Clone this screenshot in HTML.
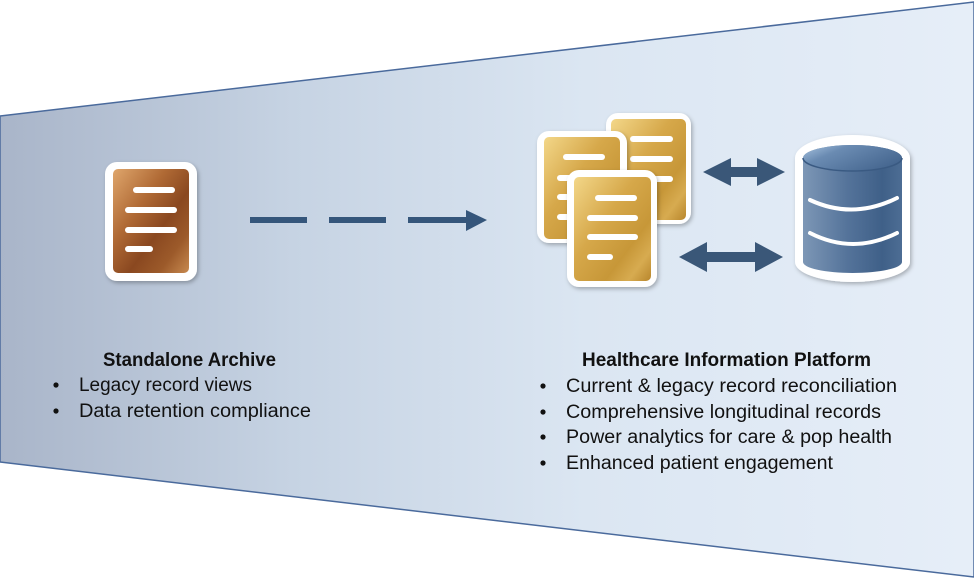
<!DOCTYPE html>
<html><head><meta charset="utf-8"><style>
html,body{margin:0;padding:0;background:#fff;}
svg{display:block;}
text{font-family:"Liberation Sans",Arial,sans-serif;fill:#111;}
</style></head><body>
<svg width="974" height="579" viewBox="0 0 974 579" xmlns="http://www.w3.org/2000/svg">
<defs>
<linearGradient id="bg" x1="0" y1="0" x2="1" y2="0">
<stop offset="0" stop-color="#a9b5c9"/>
<stop offset="0.3" stop-color="#c6d3e3"/>
<stop offset="0.6" stop-color="#dbe6f2"/>
<stop offset="1" stop-color="#e6eef8"/>
</linearGradient>
<linearGradient id="brown" x1="0" y1="0" x2="1" y2="1">
<stop offset="0" stop-color="#dfa66c"/>
<stop offset="0.35" stop-color="#b06a35"/>
<stop offset="0.6" stop-color="#8a4820"/>
<stop offset="0.8" stop-color="#9c5a2a"/>
<stop offset="1" stop-color="#c88a50"/>
</linearGradient>
<linearGradient id="gold" x1="0" y1="0" x2="1" y2="1">
<stop offset="0" stop-color="#f3d789"/>
<stop offset="0.4" stop-color="#d6a84a"/>
<stop offset="0.7" stop-color="#c79738"/>
<stop offset="0.85" stop-color="#d7ab50"/>
<stop offset="1" stop-color="#b8862c"/>
</linearGradient>
<linearGradient id="cyl" x1="0" y1="0" x2="1" y2="0">
<stop offset="0" stop-color="#7d97b6"/>
<stop offset="0.45" stop-color="#54739a"/>
<stop offset="0.8" stop-color="#3f6088"/>
<stop offset="1" stop-color="#4d6d94"/>
</linearGradient>
<linearGradient id="cyltop" x1="0" y1="0" x2="1" y2="0.6">
<stop offset="0" stop-color="#a9c4e0"/>
<stop offset="0.35" stop-color="#6a8bb2"/>
<stop offset="1" stop-color="#466790"/>
</linearGradient>
<filter id="sh" x="-20%" y="-20%" width="140%" height="140%">
<feDropShadow dx="1.5" dy="2" stdDeviation="2" flood-color="#000" flood-opacity="0.28"/>
</filter>
</defs>

<polygon points="0,116 974,2 974,577 0,462" fill="url(#bg)" stroke="#4a6a9c" stroke-width="1.5"/>

<!-- left doc -->
<g filter="url(#sh)">
<rect x="105" y="162" width="92" height="119" rx="12" fill="#fff"/>
</g>
<rect x="113" y="169" width="76" height="104" rx="5" fill="url(#brown)"/>
<g stroke="#fff" stroke-width="6" stroke-linecap="round">
<line x1="136" y1="190" x2="172" y2="190"/>
<line x1="128" y1="210" x2="174" y2="210"/>
<line x1="128" y1="230" x2="174" y2="230"/>
<line x1="128" y1="249" x2="150" y2="249"/>
</g>

<!-- dashed arrow -->
<g fill="#35567b">
<rect x="250" y="217" width="57" height="6"/>
<rect x="329" y="217" width="57" height="6"/>
<rect x="408" y="217" width="58" height="6"/>
<polygon points="466,210 487,220 466,231"/>
</g>

<!-- back gold doc -->
<g filter="url(#sh)"><rect x="606" y="113" width="85" height="111" rx="12" fill="#fff"/></g>
<rect x="611" y="119" width="75" height="101" rx="5" fill="url(#gold)"/>
<g stroke="#fff" stroke-width="6" stroke-linecap="round">
<line x1="633" y1="139" x2="670" y2="139"/>
<line x1="633" y1="159" x2="670" y2="159"/>
<line x1="633" y1="179" x2="670" y2="179"/>
</g>
<!-- left gold doc -->
<g filter="url(#sh)"><rect x="537" y="131" width="90" height="112" rx="12" fill="#fff"/></g>
<rect x="544" y="137" width="76" height="102" rx="5" fill="url(#gold)"/>
<g stroke="#fff" stroke-width="6" stroke-linecap="round">
<line x1="566" y1="157" x2="602" y2="157"/>
<line x1="560" y1="178" x2="605" y2="178"/>
<line x1="560" y1="197" x2="605" y2="197"/>
<line x1="560" y1="217" x2="605" y2="217"/>
</g>
<!-- front gold doc -->
<g filter="url(#sh)"><rect x="567" y="170" width="90" height="117" rx="12" fill="#fff"/></g>
<rect x="574" y="177" width="77" height="104" rx="5" fill="url(#gold)"/>
<g stroke="#fff" stroke-width="6" stroke-linecap="round">
<line x1="598" y1="198" x2="634" y2="198"/>
<line x1="590" y1="218" x2="635" y2="218"/>
<line x1="590" y1="237" x2="635" y2="237"/>
<line x1="590" y1="257" x2="610" y2="257"/>
</g>

<!-- double arrows -->
<g fill="#3a5778">
<polygon points="703,172 731,158 731,167 757,167 757,158 785,172 757,186 757,177 731,177 731,186"/>
<polygon points="679,257 707,242 707,252 755,252 755,242 783,257 755,272 755,262 707,262 707,272"/>
</g>

<!-- database -->
<g filter="url(#sh)">
<path d="M795,158 A57.5,23 0 0 1 910,158 L910,262 A57.5,20 0 0 1 795,262 Z" fill="#fff"/>
</g>
<path d="M803,158 A49.5,13 0 0 1 902,158 L902,262 A49.5,11 0 0 1 803,262 Z" fill="url(#cyl)"/>
<ellipse cx="852.5" cy="158" rx="49.5" ry="13" fill="url(#cyltop)"/>
<path d="M803,158 A49.5,13 0 0 0 902,158" fill="none" stroke="#3a5a82" stroke-width="1.5"/>
<g fill="none" stroke="#fff" stroke-width="4" stroke-linecap="round">
<path d="M810,200 Q853,220 897,198"/>
<path d="M810,233 Q853,255 897,233"/>
</g>

<!-- left text -->
<text x="103" y="366" font-size="19" font-weight="bold" textLength="173" lengthAdjust="spacingAndGlyphs">Standalone Archive</text>
<circle cx="56" cy="385" r="2.6" fill="#111"/>
<text x="79" y="391" font-size="19" textLength="173" lengthAdjust="spacingAndGlyphs">Legacy record views</text>
<circle cx="56" cy="411" r="2.6" fill="#111"/>
<text x="79" y="417" font-size="19" textLength="232" lengthAdjust="spacingAndGlyphs">Data retention compliance</text>

<!-- right text -->
<text x="582" y="366" font-size="19" font-weight="bold" textLength="289" lengthAdjust="spacingAndGlyphs">Healthcare Information Platform</text>
<circle cx="543" cy="386" r="2.6" fill="#111"/>
<text x="566" y="392" font-size="19" textLength="331" lengthAdjust="spacingAndGlyphs">Current &amp; legacy record reconciliation</text>
<circle cx="543" cy="412" r="2.6" fill="#111"/>
<text x="566" y="418" font-size="19" textLength="315" lengthAdjust="spacingAndGlyphs">Comprehensive longitudinal records</text>
<circle cx="543" cy="437" r="2.6" fill="#111"/>
<text x="566" y="443" font-size="19" textLength="326" lengthAdjust="spacingAndGlyphs">Power analytics for care &amp; pop health</text>
<circle cx="543" cy="463" r="2.6" fill="#111"/>
<text x="566" y="469" font-size="19" textLength="267" lengthAdjust="spacingAndGlyphs">Enhanced patient engagement</text>
</svg>
</body></html>
